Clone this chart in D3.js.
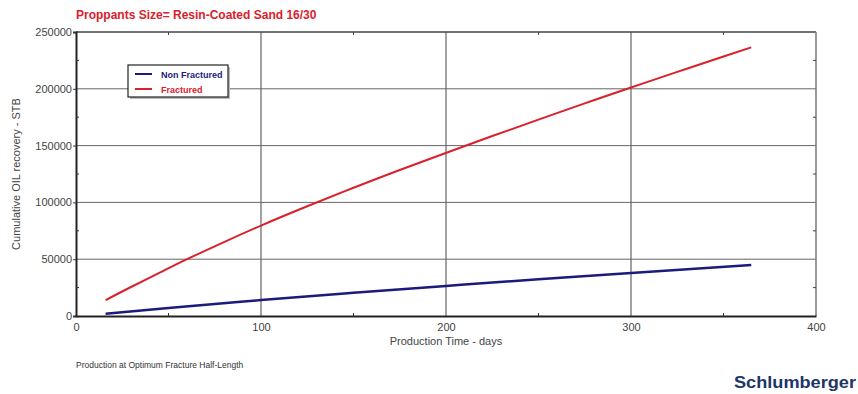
<!DOCTYPE html>
<html>
<head>
<meta charset="utf-8">
<script src="https://cdn.jsdelivr.net/npm/d3@7"></script>
<style>
  body { margin: 0; background: #fff; }
  text { font-family: Arial, "Liberation Sans", sans-serif; }
</style>
</head>
<body>
<script>
// data
const fracDays = [16, 30, 45, 60, 80, 100, 125, 150, 175, 200, 225, 250, 275, 300, 325, 350, 365];
const fracOil = [14000, 25760, 37900, 50000, 65100, 79600, 96600, 112850, 128500, 143600, 158400, 172900, 187150, 201150, 214900, 228450, 236500];
const nonFracDays = [16, 50, 100, 150, 200, 250, 300, 365];
const nonFracOil = [2000, 7100, 14000, 20400, 26500, 32300, 37900, 45000];
const xTicks = [0, 100, 200, 300, 400];
const yTicks = [0, 50000, 100000, 150000, 200000, 250000];
const seriesNames = ['Non Fractured', 'Fractured'];
const seriesColors = ['#1b1b7e', '#d9202b'];

const W = 858, H = 394;
const margin = { left: 76, right: 42, top: 32, bottom: 78 };

const svg = d3.select('body').append('svg')
    .attr('width', W)
    .attr('height', H);

const x = d3.scaleLinear().domain([0, 400]).range([margin.left, W - margin.right]);
const y = d3.scaleLinear().domain([0, 250000]).range([H - margin.bottom, margin.top]);

// grid
const grid = svg.append('g');
grid.selectAll('line.v').data(xTicks.slice(1, -1)).enter().append('line')
    .attr('x1', d => x(d)).attr('x2', d => x(d))
    .attr('y1', y(0)).attr('y2', y(250000))
    .attr('stroke', '#444').attr('stroke-width', 1);
grid.selectAll('line.h').data(yTicks.slice(1, -1)).enter().append('line')
    .attr('x1', x(0)).attr('x2', x(400))
    .attr('y1', d => y(d)).attr('y2', d => y(d))
    .attr('stroke', '#666').attr('stroke-width', 1);

// frame: top and right lighter
svg.append('line').attr('x1', x(0)).attr('x2', x(400)).attr('y1', y(250000)).attr('y2', y(250000))
    .attr('stroke', '#444').attr('stroke-width', 1.5);
svg.append('line').attr('x1', x(400)).attr('x2', x(400)).attr('y1', y(0)).attr('y2', y(250000))
    .attr('stroke', '#777').attr('stroke-width', 1.5);

// minor ticks on top/right
const minorX = d3.range(50, 400, 100);
const minorY = d3.range(25000, 250000, 50000);
svg.append('g').selectAll('line').data(minorX).enter().append('line')
    .attr('x1', d => x(d)).attr('x2', d => x(d))
    .attr('y1', y(250000)).attr('y2', y(250000) + 3)
    .attr('stroke', '#444');
svg.append('g').selectAll('line').data(minorY).enter().append('line')
    .attr('x1', x(400)).attr('x2', x(400) - 3)
    .attr('y1', d => y(d)).attr('y2', d => y(d))
    .attr('stroke', '#444');

// axes
const xAxis = svg.append('g')
    .attr('transform', `translate(0,${y(0)})`)
    .call(d3.axisBottom(x).tickValues(xTicks).tickSize(0).tickPadding(7).tickFormat(d3.format('d')));
xAxis.select('.domain').attr('stroke', '#222').attr('stroke-width', 2);
xAxis.selectAll('text').attr('font-size', 11).attr('fill', '#444');
svg.append('g').selectAll('line').data(minorX).enter().append('line')
    .attr('x1', d => x(d)).attr('x2', d => x(d))
    .attr('y1', y(0)).attr('y2', y(0) - 3)
    .attr('stroke', '#333');

const yAxis = svg.append('g')
    .attr('transform', `translate(${x(0)},0)`)
    .call(d3.axisLeft(y).tickValues(yTicks).tickSize(3).tickPadding(1).tickFormat(d3.format('d')));
yAxis.select('.domain').attr('stroke', '#222').attr('stroke-width', 2);
yAxis.selectAll('.tick line').attr('stroke', '#333');
yAxis.selectAll('text').attr('font-size', 11).attr('fill', '#444');
svg.append('g').selectAll('line').data(minorY).enter().append('line')
    .attr('x1', x(0)).attr('x2', x(0) + 3)
    .attr('y1', d => y(d)).attr('y2', d => y(d))
    .attr('stroke', '#333');

// series
const line = d3.line().x(d => x(d[0])).y(d => y(d[1])).curve(d3.curveNatural);
svg.append('path')
    .datum(nonFracDays.map((d, i) => [d, nonFracOil[i]]))
    .attr('d', line).attr('fill', 'none')
    .attr('stroke', seriesColors[0]).attr('stroke-width', 2.5);
svg.append('path')
    .datum(fracDays.map((d, i) => [d, fracOil[i]]))
    .attr('d', line).attr('fill', 'none')
    .attr('stroke', seriesColors[1]).attr('stroke-width', 2);

// legend
const legend = svg.append('g').attr('transform', 'translate(128,65)');
legend.append('rect').attr('x', 2).attr('y', 2).attr('width', 100).attr('height', 32).attr('fill', '#bbb');
legend.append('rect').attr('width', 100).attr('height', 32)
    .attr('fill', '#fff').attr('stroke', '#222').attr('stroke-width', 1.2);
seriesNames.forEach((name, i) => {
    const g = legend.append('g').attr('transform', `translate(0,${9 + i * 15})`);
    g.append('line').attr('x1', 7).attr('x2', 24).attr('y1', 0).attr('y2', 0)
        .attr('stroke', seriesColors[i]).attr('stroke-width', 2);
    g.append('text').attr('x', 33).attr('y', 3.5)
        .attr('font-size', 9).attr('font-weight', 'bold')
        .attr('fill', seriesColors[i]).text(name);
});

// titles and labels
svg.append('text').attr('x', 76).attr('y', 19)
    .attr('font-size', 12).attr('font-weight', 'bold').attr('fill', '#d9202b')
    .text('Proppants Size= Resin-Coated Sand 16/30');

svg.append('text').attr('x', x(200)).attr('y', 345)
    .attr('text-anchor', 'middle').attr('font-size', 11).attr('fill', '#444')
    .text('Production Time - days');

svg.append('text')
    .attr('transform', `translate(20,${(y(0) + y(250000)) / 2}) rotate(-90)`)
    .attr('text-anchor', 'middle').attr('font-size', 11).attr('fill', '#444')
    .text('Cumulative OIL recovery - STB');

svg.append('text').attr('x', 76).attr('y', 368)
    .attr('font-size', 8.5).attr('fill', '#333')
    .text('Production at Optimum Fracture Half-Length');

svg.append('text').attr('x', 856).attr('y', 388)
    .attr('text-anchor', 'end')
    .attr('font-family', '"Liberation Sans Narrow", "DejaVu Sans Condensed", Arial')
    .attr('font-size', 17).attr('font-weight', 'bold').attr('fill', '#1c3667')
    .attr('textLength', 122).attr('lengthAdjust', 'spacingAndGlyphs')
    .text('Schlumberger');
</script>
</body>
</html>
